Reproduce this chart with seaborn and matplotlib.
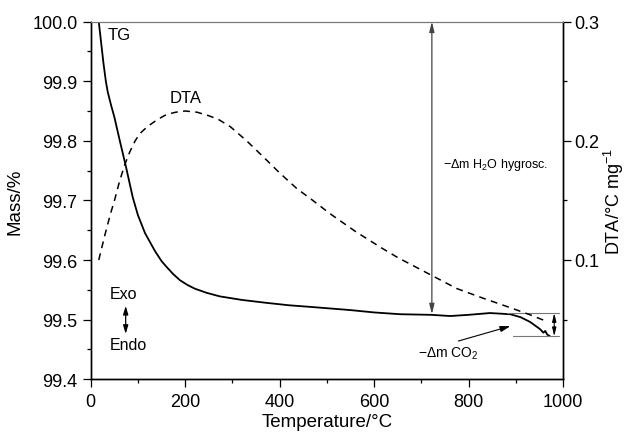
import numpy as np
import pandas as pd
import matplotlib
matplotlib.use("Agg")
import matplotlib.pyplot as plt
import seaborn as sns
from matplotlib.ticker import MultipleLocator, FixedLocator

# ---- data ----
tg_temp = [17, 22, 27, 32, 36, 43, 50, 61, 75, 89, 100, 115, 136, 150, 161, 175,
           189, 205, 220, 245, 273, 320, 373, 420, 470, 549, 600, 655, 720, 761,
           800, 845, 888, 910, 930, 951, 958, 962, 966, 972]
tg_mass = [100.0, 99.965, 99.93, 99.90, 99.882, 99.86, 99.84, 99.802, 99.755,
           99.705, 99.675, 99.645, 99.615, 99.598, 99.588, 99.576, 99.566, 99.558,
           99.552, 99.545, 99.539, 99.533, 99.528, 99.524, 99.521, 99.516, 99.512,
           99.509, 99.508, 99.506, 99.508, 99.511, 99.509, 99.504, 99.496, 99.484,
           99.478, 99.481, 99.475, 99.472]

dta_temp = [17, 30, 42, 51, 61, 72, 83, 94, 104, 120, 142, 160, 180, 200, 225,
            250, 270, 295, 330, 364, 400, 436, 470, 506, 560, 616, 650, 674, 722,
            775, 830, 888, 930, 968]
dta_val = [0.100, 0.121, 0.139, 0.151, 0.166, 0.180, 0.191, 0.200, 0.206, 0.212,
           0.218, 0.222, 0.224, 0.225, 0.224, 0.221, 0.218, 0.212, 0.200, 0.187,
           0.173, 0.160, 0.150, 0.139, 0.124, 0.110, 0.102, 0.097, 0.087, 0.076,
           0.068, 0.060, 0.054, 0.048]

x_ticks = [0, 200, 400, 600, 800, 1000]
mass_ticks = [99.4, 99.5, 99.6, 99.7, 99.8, 99.9, 100.0]
dta_ticks = [0.1, 0.2, 0.3]

# reference levels for annotations
mass_after_h2o = 99.509
co2_upper = 99.511
co2_lower = 99.472

sns.set_style("ticks")
plt.rcParams["font.family"] = ["Liberation Sans", "DejaVu Sans"]
plt.rcParams["mathtext.fontset"] = "custom"
plt.rcParams["mathtext.rm"] = "Liberation Sans"
plt.rcParams["mathtext.it"] = "Liberation Sans:italic"
plt.rcParams["text.color"] = "black"
plt.rcParams["axes.labelcolor"] = "black"
plt.rcParams["xtick.color"] = "black"
plt.rcParams["ytick.color"] = "black"

fig = plt.figure(figsize=(6.3, 4.35), dpi=100)
ax = fig.add_axes([0.144, 0.126, 0.75, 0.822])
ax2 = ax.twinx()

tg = pd.DataFrame({"T": tg_temp, "m": tg_mass})
dta = pd.DataFrame({"T": dta_temp, "d": dta_val})

sns.lineplot(data=tg, x="T", y="m", ax=ax, color="black", linewidth=1.3,
             estimator=None, sort=False)
sns.lineplot(data=dta, x="T", y="d", ax=ax2, color="black", linewidth=1.1,
             estimator=None, sort=False, linestyle=(0, (4.5, 3.5)))

ax.set_xlim(0, 1000)
ax.set_ylim(99.4, 100.0)
ax2.set_ylim(0, 0.3)

ax.set_xticks(x_ticks)
ax.xaxis.set_minor_locator(MultipleLocator(100))
ax.set_yticks(mass_ticks)
ax.set_yticklabels([f"{v:.1f}" for v in mass_ticks])
ax.yaxis.set_minor_locator(MultipleLocator(0.05))
ax2.set_yticks(dta_ticks)
ax2.set_yticklabels([f"{v:.1f}" for v in dta_ticks])
ax2.yaxis.set_minor_locator(FixedLocator([0.05, 0.15, 0.25]))

for a in (ax, ax2):
    a.tick_params(which="major", direction="out", length=6, width=0.9,
                  labelsize=13, colors="black")
    a.tick_params(which="minor", direction="out", length=3, width=0.9,
                  colors="black")
    for s in a.spines.values():
        s.set_linewidth(1.0)
        s.set_color("black")
    a.spines["top"].set_color("#777777")
    a.spines["top"].set_linewidth(0.8)
ax.tick_params(axis="x", pad=4)
ax2.tick_params(axis="y", pad=2)

ax.set_xlabel("Temperature/°C", fontsize=13.5, labelpad=2, color="black")
ax.set_ylabel("Mass/%", fontsize=13.5, labelpad=6, color="black")
ax2.set_ylabel("DTA/°C mg$^{-1}$", fontsize=13, labelpad=2, color="black")

# curve labels
ax.text(36, 99.979, "TG", fontsize=12, va="center", ha="left", color="black")
ax.text(167, 99.873, "DTA", fontsize=12, va="center", ha="left", color="black")

# Exo / Endo
ax.text(40, 99.543, "Exo", fontsize=11.5, va="center", ha="left", color="black")
ax.text(40, 99.458, "Endo", fontsize=11.5, va="center", ha="left", color="black")
ax.annotate("", xy=(74, 99.523), xytext=(74, 99.476),
            arrowprops=dict(arrowstyle="<|-|>,head_length=0.5,head_width=0.15",
                            color="black", lw=0.9, shrinkA=0, shrinkB=0))

# hygroscopic water arrow
ax.annotate("", xy=(722, 100.0), xytext=(722, mass_after_h2o),
            arrowprops=dict(arrowstyle="<|-|>,head_length=0.6,head_width=0.15",
                            color="#444444", lw=0.9, shrinkA=0, shrinkB=0))
ax.text(746, 99.761, "\u2212\u0394m H$_2$O hygrosc.", fontsize=9, va="center",
        ha="left", color="black")

# CO2 loss annotation
ax.plot([880, 992], [co2_upper, co2_upper], color="#777777", lw=0.8)
ax.plot([894, 992], [co2_lower, co2_lower], color="#777777", lw=0.8)
ax.annotate("", xy=(981, co2_upper), xytext=(981, co2_lower),
            arrowprops=dict(arrowstyle="<|-|>,head_length=0.5,head_width=0.12",
                            color="black", lw=0.8, shrinkA=0, shrinkB=0))
ax.annotate("", xy=(888, 99.489), xytext=(778, 99.464),
            arrowprops=dict(arrowstyle="-|>,head_length=0.6,head_width=0.18",
                            color="black", lw=0.8, shrinkA=0, shrinkB=0))
ax.text(693, 99.445, "\u2212\u0394m CO$_2$", fontsize=10, va="center", ha="left",
        color="black")

fig.savefig("out.png", dpi=100)
